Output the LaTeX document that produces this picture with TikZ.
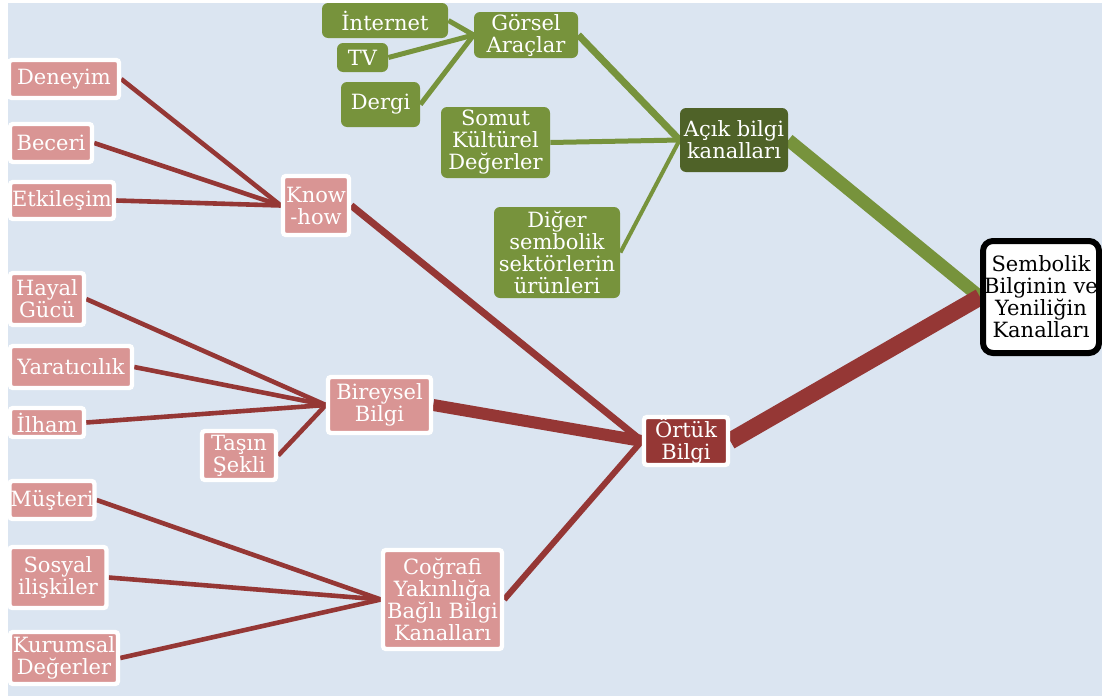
\documentclass[tikz,border=0pt]{standalone}
\usepackage{fontspec}
\setmainfont{DejaVu Serif}
\pgfdeclarelayer{canvas}
\pgfdeclarelayer{links}
\pgfsetlayers{canvas,links,main}
\definecolor{paper}{HTML}{DBE5F1}
\definecolor{olive}{HTML}{77933C}
\definecolor{darkolive}{HTML}{4F6228}
\definecolor{rose}{HTML}{D99594}
\definecolor{brick}{HTML}{953735}
\begin{document}
\begin{tikzpicture}[x=0.5pt,y=-0.5pt,
  txt/.style={inner sep=0pt,align=center,text=white,
    font=\fontsize{10.5}{11}\selectfont},
  rosebox/.style={txt,fill=rose,draw=white,line width=2.2pt,rounded corners=1.5pt},
  tacitbox/.style={rosebox,fill=brick},
  olivebox/.style={txt,fill=olive,rounded corners=3pt},
  openbox/.style={olivebox,fill=darkolive},
  rootbox/.style={txt,text=black,fill=white,draw=black,line width=3pt,rounded corners=5pt},
  redlink/.style={draw=brick,line width=2.3pt},
  greenlink/.style={draw=olive,line width=2.5pt},
]
\useasboundingbox (0,0) rectangle (1102,696);
\begin{pgfonlayer}{canvas}
  \fill[paper] (8,3) rectangle (1102,696);
\end{pgfonlayer}

% target
\node[rootbox,minimum width=58pt,minimum height=56pt] (root) at (1041,297)
  {Sembolik\\Bilginin ve\\Yeniliğin\\Kanalları};

% open (explicit) channels
\node[openbox,minimum width=54pt,minimum height=32pt] (acik) at (734,140) {Açık bilgi\\kanalları};
\node[olivebox,minimum width=52pt,minimum height=23pt] (gorsel) at (526,35) {Görsel\\Araçlar};
\node[olivebox,minimum width=63pt,minimum height=17.5pt] (internet) at (385,20.5) {İnternet};
\node[olivebox,minimum width=25.5pt,minimum height=14.5pt] (tv) at (362.5,57.5) {TV};
\node[olivebox,minimum width=39.5pt,minimum height=22.5pt] (dergi) at (380.5,104.5) {Dergi};
\node[olivebox,minimum width=54.5pt,minimum height=35.5pt] (somut) at (495.5,142.5) {Somut\\Kültürel\\Değerler};
\node[olivebox,minimum width=63pt,minimum height=45.5pt] (diger) at (557,252.5) {Diğer\\sembolik\\sektörlerin\\ürünleri};

% tacit channels
\node[tacitbox,minimum width=42pt,minimum height=24pt] (ortuk) at (686,441) {Örtük\\Bilgi};
\node[rosebox,minimum width=33pt,minimum height=29.5pt] (know) at (316,205.5) {Know\\-how};
\node[rosebox,minimum width=55pt,minimum height=19pt] (deneyim) at (64,79) {Deneyim};
\node[rosebox,minimum width=41pt,minimum height=19pt] (beceri) at (51,143) {Beceri};
\node[rosebox,minimum width=52pt,minimum height=18.5pt] (etkilesim) at (62,200.5) {Etkileşim};
\node[rosebox,minimum width=51.5pt,minimum height=28pt] (bireysel) at (379.5,405) {Bireysel\\Bilgi};
\node[rosebox,minimum width=37pt,minimum height=26pt] (hayal) at (47,299) {Hayal\\Gücü};
\node[rosebox,minimum width=61pt,minimum height=21pt] (yaratici) at (71,367) {Yaratıcılık};
\node[rosebox,minimum width=37pt,minimum height=14.5pt] (ilham) at (47,422.5) {İlham};
\node[rosebox,minimum width=37pt,minimum height=24.5pt] (tas) at (239,455.5) {Taşın\\Şekli};
\node[rosebox,minimum width=59.5pt,minimum height=49.5pt] (cografi) at (442.5,599.5) {Coğrafi\\Yakınlığa\\Bağlı Bilgi\\Kanalları};
\node[rosebox,minimum width=42.5pt,minimum height=19pt] (musteri) at (52,500) {Müşteri};
\node[rosebox,minimum width=48.5pt,minimum height=30.5pt] (sosyal) at (58,577.5) {Sosyal\\ilişkiler};
\node[rosebox,minimum width=54pt,minimum height=26pt] (kurumsal) at (64,658) {Kurumsal\\Değerler};

\begin{pgfonlayer}{links}
  % explicit branch
  \draw[greenlink] (internet.east) -- (gorsel.west);
  \draw[greenlink] (tv.east) -- (gorsel.west);
  \draw[greenlink] (dergi.east) -- (gorsel.west);
  \draw[greenlink,line width=3.5pt] (gorsel.east) -- (acik.west);
  \draw[greenlink] (somut.east) -- (acik.west);
  \draw[greenlink,line width=2pt] (diger.east) -- (acik.west);
  \draw[greenlink,line width=6.5pt] (acik.east) -- (root.west);
  % tacit branch
  \draw[redlink] (deneyim.east) -- (know.west);
  \draw[redlink] (beceri.east) -- (know.west);
  \draw[redlink] (etkilesim.east) -- (know.west);
  \draw[redlink] (hayal.east) -- (bireysel.west);
  \draw[redlink] (yaratici.east) -- (bireysel.west);
  \draw[redlink] (ilham.east) -- (bireysel.west);
  \draw[redlink] (tas.east) -- (bireysel.west);
  \draw[redlink] (musteri.east) -- (cografi.west);
  \draw[redlink] (sosyal.east) -- (cografi.west);
  \draw[redlink] (kurumsal.east) -- (cografi.west);
  \draw[redlink,line width=3.5pt] (know.east) -- (ortuk.west);
  \draw[redlink,line width=6pt] (bireysel.east) -- (ortuk.west);
  \draw[redlink,line width=3pt] (cografi.east) -- (ortuk.west);
  \draw[redlink,line width=8.5pt] (ortuk.east) -- (root.west);
\end{pgfonlayer}
\end{tikzpicture}
\end{document}
